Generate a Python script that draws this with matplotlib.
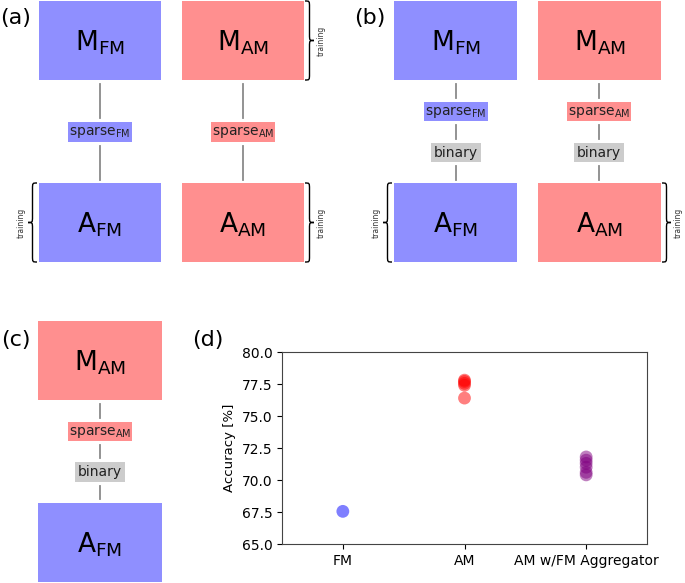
import numpy as np
import matplotlib
matplotlib.use('Agg')
import matplotlib.pyplot as plt
from matplotlib.path import Path
from matplotlib.patches import PathPatch, Rectangle

# scatter data for panel (d)
groups = ['FM', 'AM', 'AM w/FM Aggregator']
acc_fm = [67.55]
acc_am = [77.8, 77.7, 77.55, 77.4, 76.4]
acc_agg = [71.8, 71.55, 71.3, 71.0, 70.6, 70.4]
point_colors = ['blue', 'red', 'purple']

BLUE = '#8f8fff'
RED = '#ff8f8f'
GRAY = '#cccccc'
LINE = '#8a8a8a'

fig = plt.figure(figsize=(6.85, 5.83), dpi=100)
ax = fig.add_axes([0, 0, 1, 1])
ax.set_xlim(0, 685)
ax.set_ylim(583, 0)
ax.axis('off')


def box(x0, y0, x1, y1, color, label, fs=19):
    ax.add_patch(Rectangle((x0, y0), x1 - x0, y1 - y0, fc=color, ec='none'))
    ax.text((x0 + x1) / 2, (y0 + y1) / 2 + 2, label, fontsize=fs,
            ha='center', va='center')


def tag(xc, y0, y1, w, color, label):
    ax.add_patch(Rectangle((xc - w / 2, y0), w, y1 - y0, fc=color, ec='none'))
    ax.text(xc, (y0 + y1) / 2, label, fontsize=10, ha='center', va='center',
            color='#222222')


def vline(x, y0, y1):
    ax.plot([x, x], [y0, y1], color=LINE, lw=1.3)


def brace(x, y0, y1, d, w=9):
    ym = (y0 + y1) / 2
    r = 6
    h = x + d * w / 2
    t = x + d * w
    verts = [(x, y0), (h, y0), (h, y0), (h, y0 + r),
             (h, ym - r),
             (h, ym), (h, ym), (t, ym),
             (h, ym), (h, ym), (h, ym + r),
             (h, y1 - r),
             (h, y1), (h, y1), (x, y1)]
    codes = [Path.MOVETO] + [Path.CURVE4] * 3 + [Path.LINETO] + \
        [Path.CURVE4] * 6 + [Path.LINETO] + [Path.CURVE4] * 3
    ax.add_patch(PathPatch(Path(verts, codes), fc='none', ec='black', lw=1))
    ax.text(t + d * 7, ym, 'training', fontsize=5.5, rotation=90,
            ha='center', va='center', color='#333333')


M = lambda s: r'$\mathrm{M}_{\mathrm{%s}}$' % s
A = lambda s: r'$\mathrm{A}_{\mathrm{%s}}$' % s
S = lambda s: r'$\mathrm{sparse}_{\mathrm{%s}}$' % s

# (a)
ax.text(16, 18, '(a)', fontsize=16, ha='center', va='center')
box(39, 1, 161, 80, BLUE, M('FM'))
box(182, 1, 304, 80, RED, M('AM'))
box(39, 183, 161, 262, BLUE, A('FM'))
box(182, 183, 304, 262, RED, A('AM'))
for xc, c, s in [(100, BLUE, 'FM'), (243, RED, 'AM')]:
    vline(xc, 84, 118)
    tag(xc, 122, 142, 64, c, S(s))
    vline(xc, 146, 180)
brace(305, 1, 80, 1)
brace(37, 183, 262, -1)
brace(305, 183, 262, 1)

# (b)
ax.text(370, 18, '(b)', fontsize=16, ha='center', va='center')
box(394, 1, 517, 80, BLUE, M('FM'))
box(538, 1, 661, 80, RED, M('AM'))
box(394, 183, 517, 262, BLUE, A('FM'))
box(538, 183, 661, 262, RED, A('AM'))
for xc, c, s in [(456, BLUE, 'FM'), (599, RED, 'AM')]:
    vline(xc, 84, 98)
    tag(xc, 102, 121, 64, c, S(s))
    vline(xc, 125, 139)
    tag(xc, 143, 162, 50, GRAY, 'binary')
    vline(xc, 166, 180)
brace(392, 183, 262, -1)
brace(662, 183, 262, 1)

# (c)
ax.text(16, 340, '(c)', fontsize=16, ha='center', va='center')
box(38, 321, 162, 400, RED, M('AM'))
box(38, 503, 162, 582, BLUE, A('FM'))
vline(100, 404, 418)
tag(100, 422, 441, 64, RED, S('AM'))
vline(100, 445, 458)
tag(100, 462, 482, 50, GRAY, 'binary')
vline(100, 486, 499)

# (d)
ax.text(208, 340, '(d)', fontsize=16, ha='center', va='center')
W, H = 685, 583
axd = fig.add_axes([282 / W, 1 - 544 / H, (647 - 282) / W, (544 - 352) / H])
for i, vals in enumerate([acc_fm, acc_am, acc_agg]):
    axd.scatter([i] * len(vals), vals, s=85, color=point_colors[i],
                alpha=0.5, edgecolors='none')
axd.set_xlim(-0.5, 2.5)
axd.set_ylim(65, 80)
axd.set_xticks(range(len(groups)))
axd.set_xticklabels(groups, fontsize=10)
axd.set_yticks(np.arange(65, 80.1, 2.5))
axd.set_yticklabels(['%.1f' % v for v in np.arange(65, 80.1, 2.5)], fontsize=10)
axd.set_ylabel('Accuracy [%]', fontsize=9.5)
for sp in axd.spines.values():
    sp.set_color('#444444')

fig.savefig('out.png', dpi=100)
